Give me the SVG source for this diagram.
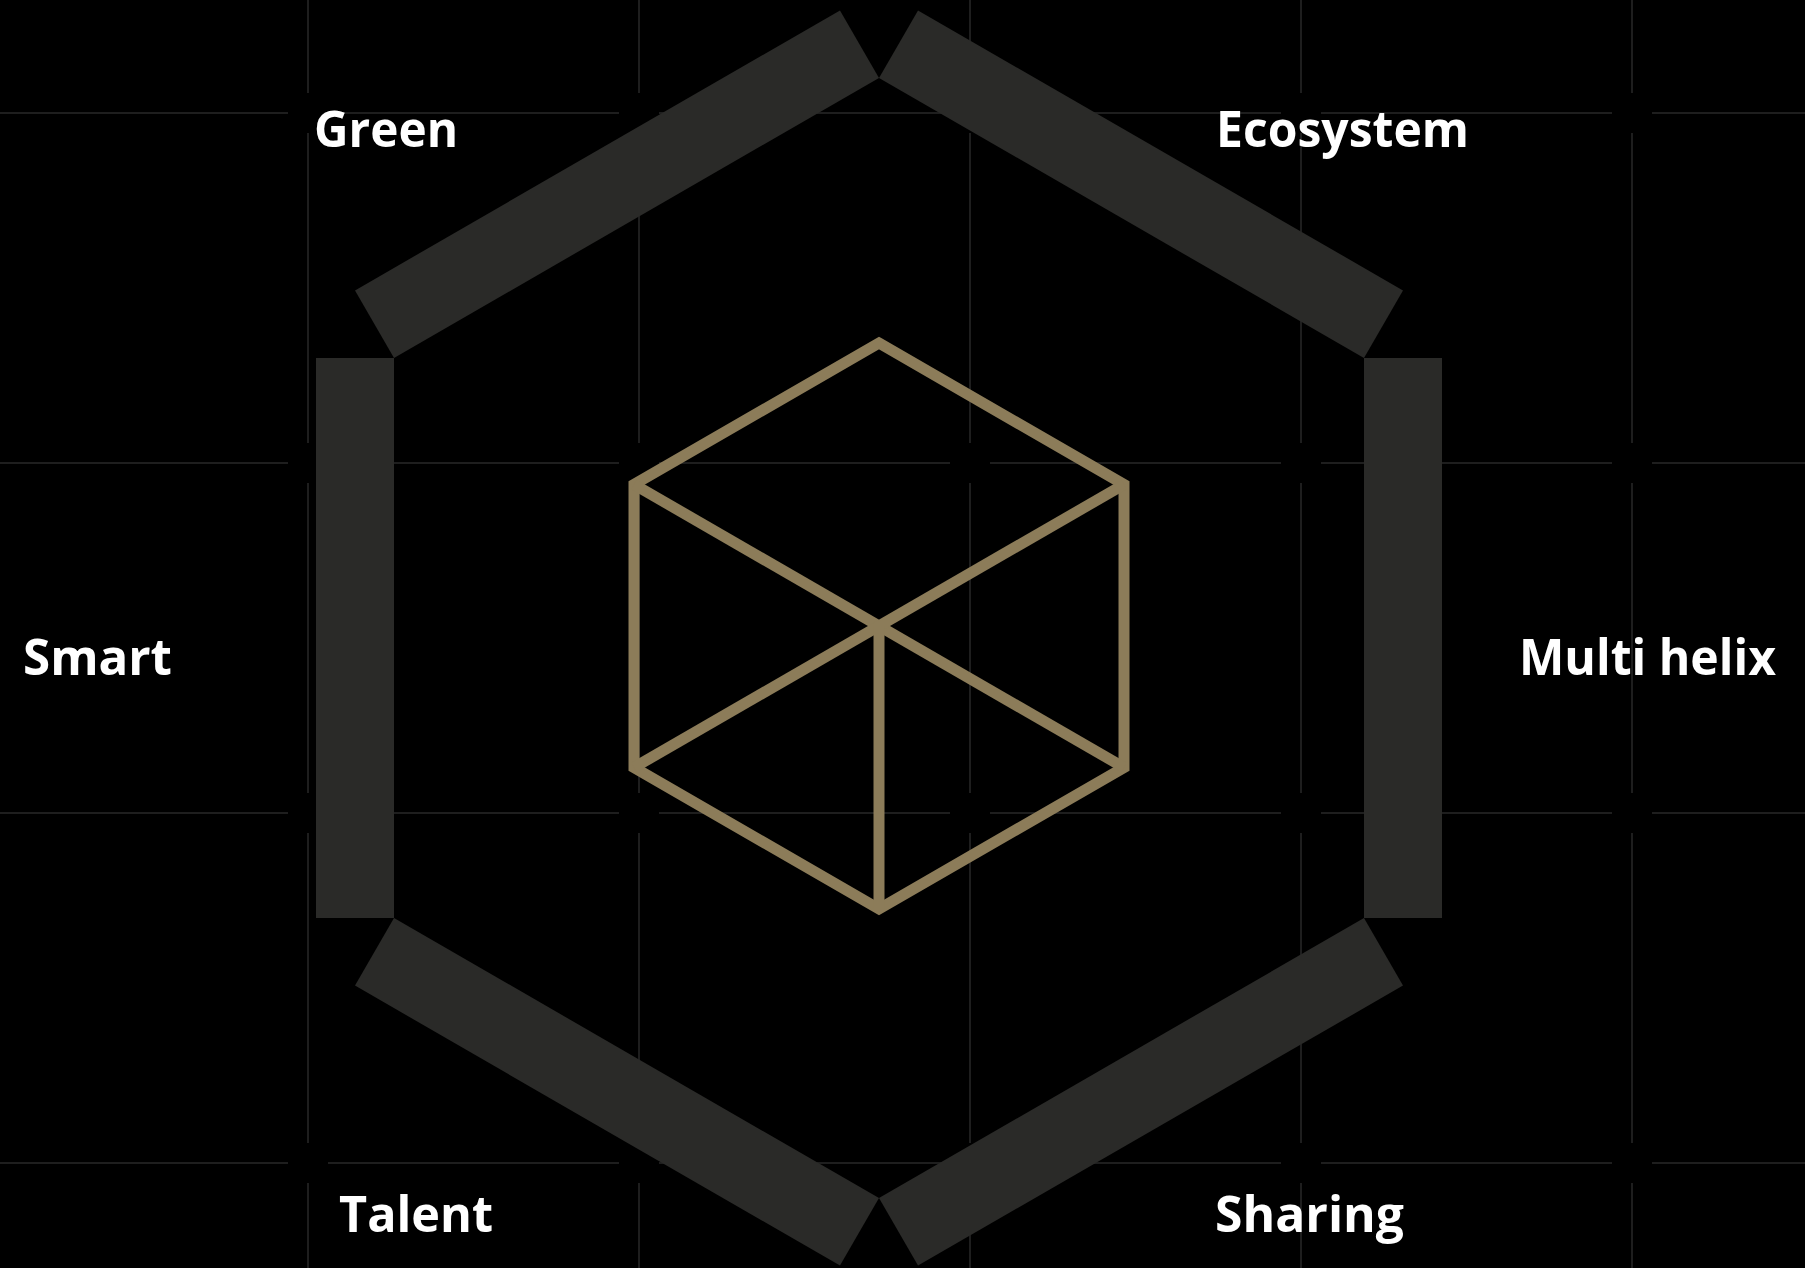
<svg xmlns="http://www.w3.org/2000/svg" width="1805" height="1268" viewBox="0 0 1805 1268">
  <style>
    .grid line { stroke: #1e1e1e; stroke-width: 2; }
    .bar { fill: #2a2a28; }
    .label { font-family: "Open Sans", "Noto Sans", "Liberation Sans", sans-serif; font-weight: 700; font-size: 51px; fill: #ffffff; }
    .cube { fill: none; stroke: #8c7c59; stroke-width: 11; stroke-linejoin: miter; }
  </style>
  <rect width="1805" height="1268" fill="#000000"/>
  <g class="grid" id="grid">
    <g id="grid-v">
      <line x1="308" y1="0" x2="308" y2="93"/><line x1="308" y1="133" x2="308" y2="443"/><line x1="308" y1="483" x2="308" y2="793"/><line x1="308" y1="833" x2="308" y2="1143"/><line x1="308" y1="1183" x2="308" y2="1268"/>
      <line x1="639" y1="0" x2="639" y2="93"/><line x1="639" y1="133" x2="639" y2="443"/><line x1="639" y1="483" x2="639" y2="793"/><line x1="639" y1="833" x2="639" y2="1143"/><line x1="639" y1="1183" x2="639" y2="1268"/>
      <line x1="970" y1="0" x2="970" y2="93"/><line x1="970" y1="133" x2="970" y2="443"/><line x1="970" y1="483" x2="970" y2="793"/><line x1="970" y1="833" x2="970" y2="1143"/><line x1="970" y1="1183" x2="970" y2="1268"/>
      <line x1="1301" y1="0" x2="1301" y2="93"/><line x1="1301" y1="133" x2="1301" y2="443"/><line x1="1301" y1="483" x2="1301" y2="793"/><line x1="1301" y1="833" x2="1301" y2="1143"/><line x1="1301" y1="1183" x2="1301" y2="1268"/>
      <line x1="1632" y1="0" x2="1632" y2="93"/><line x1="1632" y1="133" x2="1632" y2="443"/><line x1="1632" y1="483" x2="1632" y2="793"/><line x1="1632" y1="833" x2="1632" y2="1143"/><line x1="1632" y1="1183" x2="1632" y2="1268"/>
    </g>
    <g id="grid-h">
      <line x1="0" y1="113" x2="288" y2="113"/><line x1="328" y1="113" x2="619" y2="113"/><line x1="659" y1="113" x2="950" y2="113"/><line x1="990" y1="113" x2="1281" y2="113"/><line x1="1321" y1="113" x2="1612" y2="113"/><line x1="1652" y1="113" x2="1805" y2="113"/>
      <line x1="0" y1="463" x2="288" y2="463"/><line x1="328" y1="463" x2="619" y2="463"/><line x1="659" y1="463" x2="950" y2="463"/><line x1="990" y1="463" x2="1281" y2="463"/><line x1="1321" y1="463" x2="1612" y2="463"/><line x1="1652" y1="463" x2="1805" y2="463"/>
      <line x1="0" y1="813" x2="288" y2="813"/><line x1="328" y1="813" x2="619" y2="813"/><line x1="659" y1="813" x2="950" y2="813"/><line x1="990" y1="813" x2="1281" y2="813"/><line x1="1321" y1="813" x2="1612" y2="813"/><line x1="1652" y1="813" x2="1805" y2="813"/>
      <line x1="0" y1="1163" x2="288" y2="1163"/><line x1="328" y1="1163" x2="619" y2="1163"/><line x1="659" y1="1163" x2="950" y2="1163"/><line x1="990" y1="1163" x2="1281" y2="1163"/><line x1="1321" y1="1163" x2="1612" y2="1163"/><line x1="1652" y1="1163" x2="1805" y2="1163"/>
    </g>
  </g>
  <defs>
    <rect id="side" class="bar" x="1364" y="358" width="78" height="560"/>
  </defs>
  <g id="connectors">
    <g id="cube" class="cube">
      <polygon points="879,343 1124,484.5 1124,767.5 879,909 634,767.5 634,484.5"/>
      <line x1="634" y1="484.5" x2="1124" y2="767.5"/>
      <line x1="1124" y1="484.5" x2="634" y2="767.5"/>
      <line x1="879" y1="626" x2="879" y2="909" stroke-linecap="butt"/>
    </g>
  </g>
  <g id="node-multi-helix">
    <use href="#side"/>
    <text class="label" x="1519" y="675" textLength="257" lengthAdjust="spacingAndGlyphs">Multi helix</text>
  </g>
  <g id="node-ecosystem">
    <use href="#side" transform="rotate(-60 879 638)"/>
    <text class="label" x="1216" y="147" textLength="253" lengthAdjust="spacingAndGlyphs">Ecosystem</text>
  </g>
  <g id="node-green">
    <use href="#side" transform="rotate(-120 879 638)"/>
    <text class="label" x="314" y="147" textLength="144" lengthAdjust="spacingAndGlyphs">Green</text>
  </g>
  <g id="node-smart">
    <use href="#side" transform="rotate(180 879 638)"/>
    <text class="label" x="23" y="675" textLength="149" lengthAdjust="spacingAndGlyphs">Smart</text>
  </g>
  <g id="node-talent">
    <use href="#side" transform="rotate(120 879 638)"/>
    <text class="label" x="339" y="1232" textLength="154" lengthAdjust="spacingAndGlyphs">Talent</text>
  </g>
  <g id="node-sharing">
    <use href="#side" transform="rotate(60 879 638)"/>
    <text class="label" x="1215" y="1232" textLength="189" lengthAdjust="spacingAndGlyphs">Sharing</text>
  </g>
</svg>
